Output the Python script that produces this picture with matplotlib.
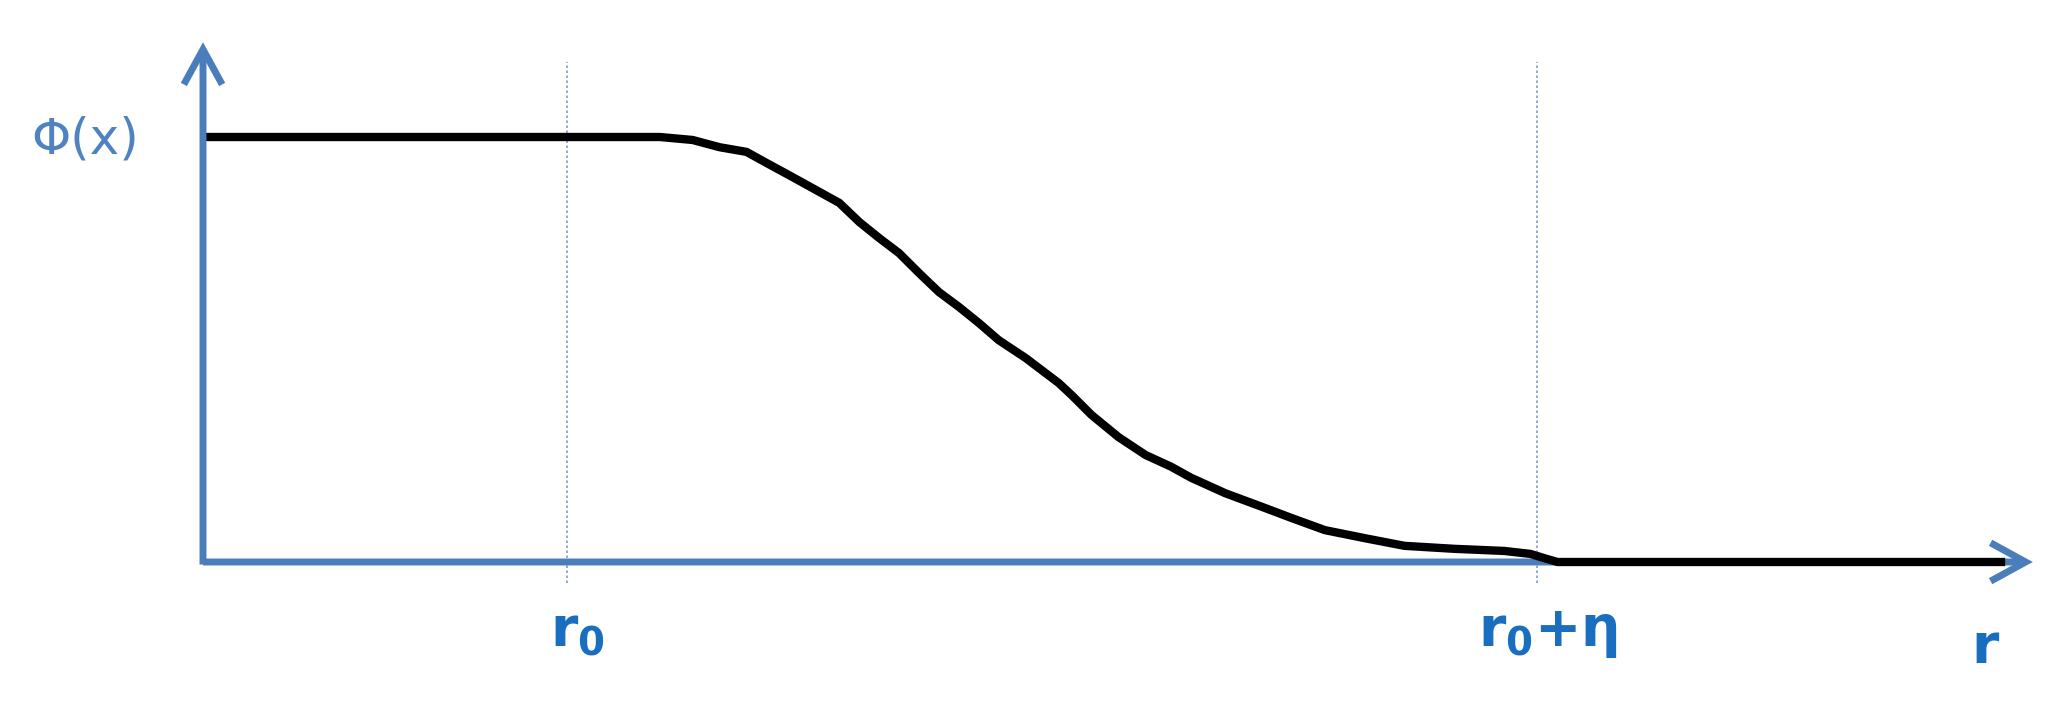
import matplotlib
matplotlib.use("Agg")
import matplotlib.pyplot as plt
from matplotlib.patches import FancyArrowPatch

# ---- data (r in units where r0 = 1; Phi normalised to plateau = 1) ----
r0 = 1.0
r0_eta = 3.665
curve_r = [0.0, 1.0, 1.255, 1.345, 1.419, 1.493, 1.548, 1.619, 1.693, 1.748,
           1.803, 1.858, 1.912, 1.967, 2.022, 2.077, 2.132, 2.186, 2.260,
           2.351, 2.386, 2.441, 2.515, 2.589, 2.660, 2.715, 2.808, 2.918,
           2.989, 3.082, 3.192, 3.301, 3.438, 3.575, 3.647, 3.685, 3.721,
           4.951]
curve_phi = [1.0, 1.0, 1.0, 0.993, 0.976, 0.965, 0.939, 0.906, 0.871, 0.845,
             0.800, 0.762, 0.727, 0.680, 0.635, 0.600, 0.562, 0.522, 0.480,
             0.421, 0.393, 0.346, 0.294, 0.252, 0.224, 0.198, 0.162, 0.127,
             0.104, 0.075, 0.056, 0.038, 0.031, 0.026, 0.019, 0.009, 0.0,
             0.0]
x_axis_end = 5.027
y_axis_end = 1.223
vline_top = 1.176
vline_bottom = -0.049
y_label = "Φ(x)"
x_label = "r"
tick_labels = ["r$_0$", "r$_0$+η"]
tick_pos = [r0, r0_eta]

axis_blue = "#4A7EBB"
label_blue = "#4F82C0"
tick_blue = "#1A6EC0"
vline_col = "#7F9CC6"

plt.rcParams['mathtext.default'] = 'regular'

fig = plt.figure(figsize=(20.69, 7.16), dpi=100)
ax = fig.add_axes([0, 0, 1, 1])
# 1 data unit in x = 364 px, 1 unit in y = 425 px; origin at (203, 562) px
ax.set_xlim(-203 / 364, (2069 - 203) / 364)
ax.set_ylim(-(716 - 562) / 425, 562 / 425)
ax.axis("off")

# dotted vertical guide lines
for p in tick_pos:
    ax.plot([p, p], [vline_bottom, vline_top], color=vline_col, lw=1.2,
            ls=(0, (1.5, 1.5)), zorder=1)

arrow_style = "->,head_length=2.1,head_width=1.15"
# x axis (below curve)
ax.add_patch(FancyArrowPatch((0, 0), (x_axis_end, 0), arrowstyle=arrow_style,
                             color=axis_blue, lw=5, mutation_scale=12,
                             shrinkA=0, shrinkB=0, zorder=2,
                             capstyle="butt", joinstyle="miter"))
# curve
ax.plot(curve_r, curve_phi, color="black", lw=6, solid_capstyle="butt",
        solid_joinstyle="round", zorder=3)
# y axis (above curve start)
ax.add_patch(FancyArrowPatch((0, -0.006), (0, y_axis_end), arrowstyle=arrow_style,
                             color=axis_blue, lw=5, mutation_scale=12,
                             shrinkA=0, shrinkB=0, zorder=4,
                             capstyle="butt", joinstyle="miter"))

# labels
ax.text(-0.324, 0.993, y_label, color=label_blue, fontsize=36,
        family="DejaVu Sans", ha="center", va="center")
for p, t in zip(tick_pos, tick_labels):
    ax.text(p + 0.03, -0.198, t, color=tick_blue, fontsize=40,
            family="DejaVu Sans", fontweight="bold",
            ha="center", va="baseline")
ax.text(4.896, -0.238, x_label, color=tick_blue, fontsize=40,
        family="DejaVu Sans", fontweight="bold",
        ha="center", va="baseline")

fig.savefig("out.png", dpi=100)
